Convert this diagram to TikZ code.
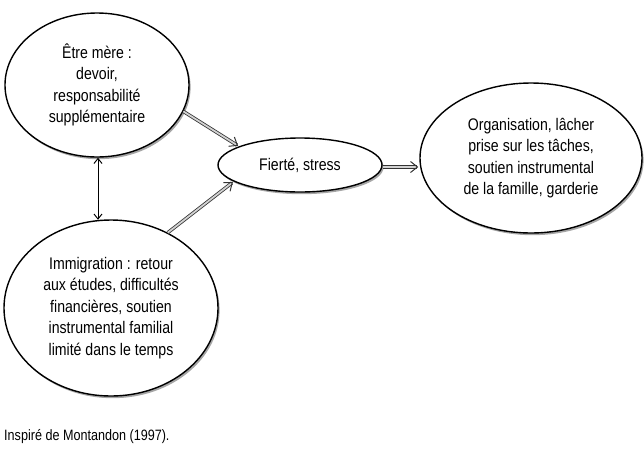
\documentclass[tikz,border=0pt]{standalone}
\usepackage{fontspec}
\setmainfont{Liberation Sans}[FakeStretch=0.84]
\usetikzlibrary{shapes.geometric,shadows,arrows.meta}
\begin{document}
\begin{tikzpicture}[x=1pt,y=-1pt,
  bubble/.style={ellipse, draw=black, line width=1.4pt, fill=white, inner sep=0pt,
    align=center, font=\fontsize{16.8}{21.5}\selectfont,
    drop shadow={shadow xshift=1.6pt, shadow yshift=-2.2pt, fill=gray!70, opacity=1}},
  dbl/.style={draw=black!80, line width=0.8pt, double=gray!35, double distance=1.8pt,
    -{Straight Barb[length=7pt,width=11pt,line width=1pt]}, shorten >=1pt},
  thin/.style={draw=black, line width=1pt, {Straight Barb[length=5pt,width=8pt]}-{Straight Barb[length=5pt,width=8pt]}}]
\useasboundingbox (0,0) rectangle (644,448);
\node[bubble, minimum width=184pt, minimum height=144pt] (e1) at (97,85)
  {Être mère :\\devoir,\\responsabilité\\supplémentaire};
\node[bubble, minimum width=214pt, minimum height=176pt] (e2) at (111,308)
  {Immigration : retour\\aux études, difficultés\\financières, soutien\\instrumental familial\\limité dans le temps};
\node[bubble, minimum width=164pt, minimum height=54pt] (fs) at (300,165)
  {Fierté, stress};
\node[bubble, minimum width=222pt, minimum height=150pt] (org) at (531,158)
  {Organisation, lâcher\\prise sur les tâches,\\soutien instrumental\\de la famille, garderie};
\coordinate (vt) at (98,158);
\draw[thin] (e1.south -| vt) -- ([yshift=-0.5pt]e2.north -| vt);
\draw[dbl] (e1.-17) -- (fs.163);
\draw[dbl] (e2.53) -- (fs.194);
\draw[dbl] ([yshift=-2pt]fs.east) -- ([yshift=-2pt]fs.east -| org.west);
\node[anchor=base west, inner sep=0pt, font=\fontsize{15}{18}\selectfont] (cap) at (4,440) {Inspiré de Montandon (1997).};
\end{tikzpicture}
\end{document}
